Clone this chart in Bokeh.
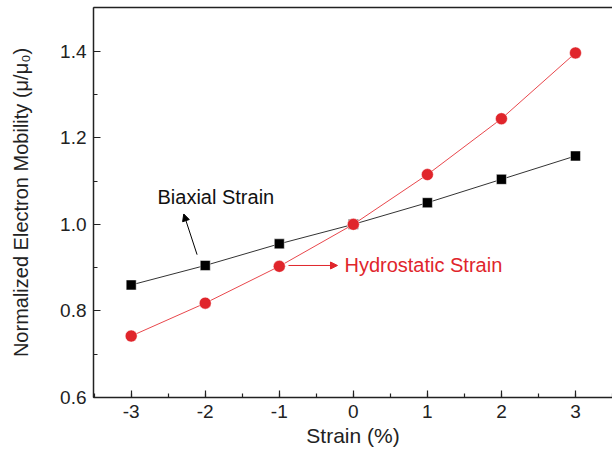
from bokeh.plotting import figure
from bokeh.models import (Range1d, LinearAxis, SingleIntervalTicker, FixedTicker,
                          PrintfTickFormatter, Label, Arrow, NormalHead)
from bokeh.embed import file_html
from bokeh.resources import INLINE

strain = [-3, -2, -1, 0, 1, 2, 3]
biaxial = [0.860, 0.905, 0.955, 1.000, 1.050, 1.104, 1.158]
hydrostatic = [0.742, 0.818, 0.903, 1.000, 1.115, 1.244, 1.396]

x_title = "Strain (%)"
y_title = "Normalized Electron Mobility (\u03bc/\u03bc\u2080)"
biax_label = "Biaxial Strain"
hydro_label = "Hydrostatic Strain"

# annotation anchor points (data units)
biax_text_pos = (-2.645, 1.063)
biax_arrow = ((-2.11, 0.930), (-2.29, 1.024))
hydro_text_pos = (-0.12, 0.905)
hydro_arrow = ((-0.876, 0.905), (-0.214, 0.905))

FONT = "Liberation Sans"
RED = "#e0252b"
AX = "#222222"

p = figure(width=612, height=456, output_backend="svg", toolbar_location=None,
           x_range=Range1d(-3.509, 3.5), y_range=Range1d(0.6, 1.501),
           min_border_left=93, min_border_right=0, min_border_top=7, min_border_bottom=59)
p.outline_line_color = None
p.xgrid.visible = False
p.ygrid.visible = False
p.background_fill_color = "white"
p.border_fill_color = "white"

xa = p.xaxis[0]
xa.ticker = SingleIntervalTicker(interval=1, num_minor_ticks=2)
xa.formatter = PrintfTickFormatter(format="%d")
ya = p.yaxis[0]
ya.ticker = SingleIntervalTicker(interval=0.2, num_minor_ticks=2)
ya.formatter = PrintfTickFormatter(format="%.1f")

for ax in (xa, ya):
    ax.axis_line_width = 1.5
    ax.axis_line_color = AX
    ax.major_tick_in = 7
    ax.major_tick_out = 0
    ax.minor_tick_in = 4
    ax.minor_tick_out = 0
    ax.major_tick_line_color = AX
    ax.minor_tick_line_color = AX
    ax.major_tick_line_width = 1.2
    ax.minor_tick_line_width = 1.2
    ax.major_label_text_font = FONT
    ax.major_label_text_font_size = "19px"
    ax.major_label_text_color = AX
    ax.axis_label_text_font = FONT
    ax.axis_label_text_font_style = "normal"
    ax.axis_label_text_color = AX

xa.axis_label = x_title
xa.axis_label_text_font_size = "21px"
xa.major_label_standoff = 7
xa.axis_label_standoff = 3
ya.axis_label = y_title
ya.axis_label_text_font_size = "20px"
ya.major_label_standoff = 7
ya.axis_label_standoff = 25

top = LinearAxis(ticker=FixedTicker(ticks=[]), major_label_text_font_size="0px",
                 major_label_standoff=0, major_tick_in=0, major_tick_out=0,
                 minor_tick_in=0, minor_tick_out=0, axis_line_width=1.5,
                 axis_line_color=AX)
p.add_layout(top, "above")

p.line(strain, biaxial, line_color="#333333", line_width=1)
p.scatter(strain, biaxial, marker="square", size=10, fill_color="black",
          line_color="white", line_width=0.5)
p.line(strain, hydrostatic, line_color="#e8474c", line_width=1)
p.scatter(strain, hydrostatic, marker="circle", size=12, fill_color=RED,
          line_color="white", line_width=0.5)

p.add_layout(Arrow(x_start=biax_arrow[0][0], y_start=biax_arrow[0][1],
                   x_end=biax_arrow[1][0], y_end=biax_arrow[1][1],
                   line_color="black", line_width=1,
                   end=NormalHead(size=7, fill_color="black", line_color="black", line_width=1)))
p.add_layout(Arrow(x_start=hydro_arrow[0][0], y_start=hydro_arrow[0][1],
                   x_end=hydro_arrow[1][0], y_end=hydro_arrow[1][1],
                   line_color=RED, line_width=1,
                   end=NormalHead(size=7, fill_color=RED, line_color=RED, line_width=1)))
p.add_layout(Label(x=biax_text_pos[0], y=biax_text_pos[1], text=biax_label,
                   text_font=FONT, text_font_size="20px", text_color="#111111",
                   text_baseline="middle", text_align="left"))
p.add_layout(Label(x=hydro_text_pos[0], y=hydro_text_pos[1], text=hydro_label,
                   text_font=FONT, text_font_size="20px", text_color=RED,
                   text_baseline="middle", text_align="left"))

open("out.html", "w").write(file_html(p, INLINE))
